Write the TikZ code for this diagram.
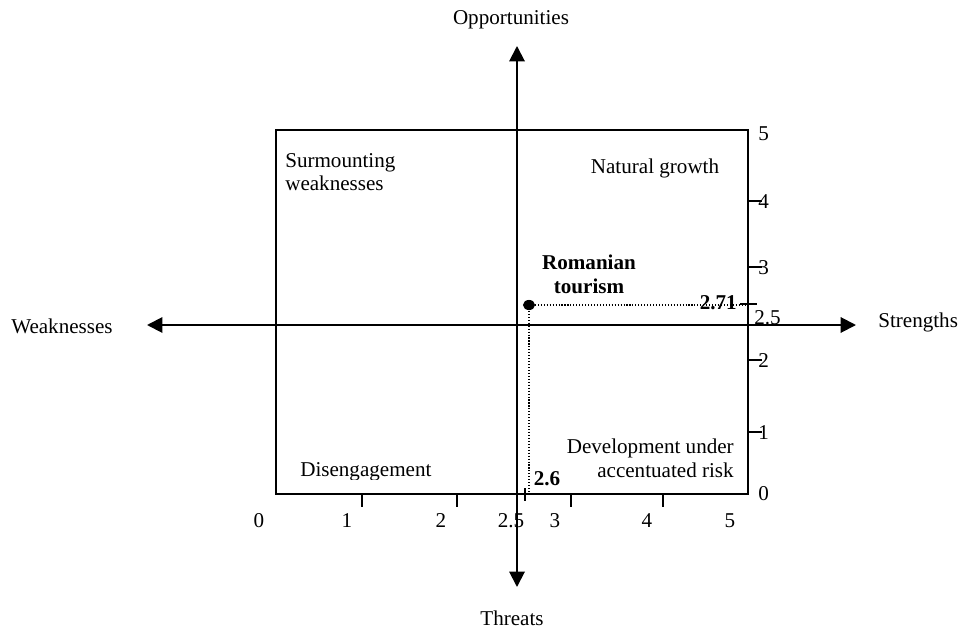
\documentclass[tikz,border=0pt]{standalone}
\usepackage{fontspec}
\setmainfont{Liberation Serif}
\usetikzlibrary{arrows.meta}

\tikzset{
  lbl/.style={font=\fontsize{15}{17}\selectfont,inner sep=0pt},
  val/.style={lbl,font=\fontsize{15}{17}\selectfont\bfseries},
  axisline/.style={line width=1.4pt,{Triangle[length=11pt,width=11pt]}-{Triangle[length=11pt,width=11pt]}},
  tick/.style={line width=1.1pt},
  guide/.style={line width=0.8pt,dash pattern=on 0.8pt off 1.3pt}
}

\begin{document}
\begin{tikzpicture}[x=0.025cm,y=-0.025cm]
\useasboundingbox (0,0) rectangle (961,630);

% frame of the matrix
\draw[line width=1.3pt] (276,130) rectangle (748,494);

% scale ticks
\foreach \x in {362,457,571,663}
  \draw[tick] (\x,494) -- (\x,507);
\foreach \y in {201,267,360,432}
  \draw[tick] (748,\y) -- (762,\y);
\draw[tick] (525,488) -- (525,501);
\draw[tick] (740,304) -- (757,304);

% scale values
\foreach \x/\t in {259/0,347/1,441/2,511/2.5,555/3,647/4,730/5}
  \node[lbl,anchor=base] at (\x,527) {\t};
\foreach \y/\t in {141/5,208/4,275/3,367/2,439/1,500/0}
  \node[lbl,anchor=base west] at (758,\y) {\t};
\node[lbl,anchor=base west] (half) at (754,324) {2.5};

% axes
\coordinate (opp) at (517,46);
\coordinate (thr) at (517,587);
\coordinate (weak) at (147,325);
\coordinate (str) at (856,325);
\draw[axisline] (thr) -- (opp);
\draw[axisline] (weak) -- (str);

\node[lbl,anchor=base] (opplbl) at (511,25) {Opportunities};
\node[lbl,anchor=base] (thrlbl) at (512,625) {Threats};
\node[lbl,anchor=base west] (weaklbl) at (11,333) {Weaknesses};
\node[lbl,anchor=base west] (strlbl) at (878,327) {Strengths};

% quadrants
\node[lbl,anchor=base west,align=left] (surm) at (285,191) {Surmounting\\weaknesses};
\node[lbl,anchor=base] (natg) at (655,174) {Natural growth};
\begin{scope}
  \clip (276,130) rectangle (748,479.5);
  \node[lbl,anchor=base west] (diseng) at (300,476) {Disengagement};
\end{scope}
\node[lbl,anchor=base east,align=right] (devrisk) at (734,477) {Development under\\accentuated risk};

% position of the sector
\coordinate (pos) at (529,305);
\coordinate (posx) at (529,492);
\coordinate (posy) at (745,305);
\draw[guide] (pos) -- (posy);
\draw[guide] (pos) -- (posx);
\fill (pos) ellipse [x radius=4.3pt, y radius=3.6pt];
\node[val,anchor=base,align=center] (rt) at (589,293) {Romanian\\tourism};
\node[val,anchor=base east] (v271) at (737,309) {2.71};
\node[val,anchor=base] (v26) at (547,485) {2.6};
\end{tikzpicture}
\end{document}
